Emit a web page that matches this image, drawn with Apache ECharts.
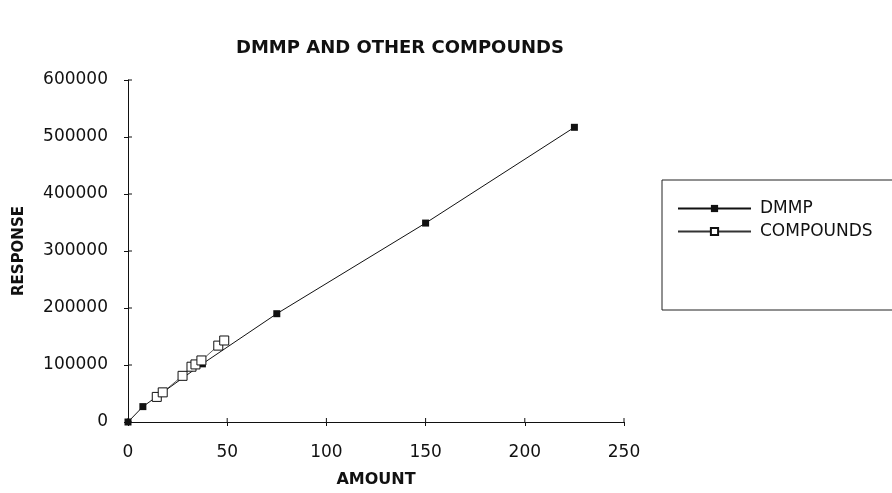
<!DOCTYPE html>
<html>
<head>
<meta charset="utf-8">
<script src="https://cdn.jsdelivr.net/npm/echarts@6/dist/echarts.min.js"></script>
<style>
  html, body { margin: 0; padding: 0; background: #fff; }
  #chart { width: 892px; height: 493px; }
</style>
</head>
<body>
<div id="chart"></div>
<script>
// DMMP calibration points (amount, response)
const dmmpAmount = [0, 7.5, 37.5, 75, 150, 225]
const dmmpResponse = [0, 27000, 102000, 190000, 349000, 517000]

// other compounds
const compAmount = [14.5, 17.5, 27.5, 32, 34, 37, 45.5, 48.5]
const compResponse = [44000, 52000, 81000, 97000, 101000, 108000, 134000, 143000]

const xTicks = [0, 50, 100, 150, 200, 250]
const yTicks = [0, 100000, 200000, 300000, 400000, 500000, 600000]

const FONT = '"DejaVu Sans", sans-serif'
const TICK = 4

const pairs = (xs, ys) => xs.map((x, i) => [x, ys[i]])

const chart = echarts.init(document.getElementById('chart'))

// inner half of the crossing ticks, placed through the axis scales
const innerTickSeries = (values, horizontal) => ({
  type: 'custom',
  silent: true,
  z: 5,
  data: values,
  renderItem: (params, api) => {
    const v = api.value(0)
    const p = horizontal ? api.coord([v, yTicks[0]]) : api.coord([xTicks[0], v])
    const shape = horizontal
      ? { x1: p[0], y1: p[1], x2: p[0], y2: p[1] - TICK }
      : { x1: p[0], y1: p[1], x2: p[0] + TICK, y2: p[1] }
    return { type: 'line', shape, style: { stroke: '#111', lineWidth: 1 } }
  }
})

chart.setOption({
  animation: false,
  backgroundColor: '#fff',
  title: {
    text: 'DMMP AND OTHER COMPOUNDS',
    left: 395,
    top: 34,
    textAlign: 'center',
    textStyle: { fontFamily: FONT, fontWeight: 'bold', fontSize: 18, color: '#111' }
  },
  grid: { left: 128, right: 268, top: 80, bottom: 70 },
  legend: {
    orient: 'vertical',
    left: 672,
    top: 195,
    itemGap: 6,
    itemWidth: 73,
    itemHeight: 9,
    textStyle: { fontFamily: FONT, fontSize: 17, color: '#111', padding: [0, 0, 0, 4] },
    data: ['DMMP', 'COMPOUNDS']
  },
  graphic: [{
    type: 'rect',
    shape: { x: 662, y: 180, width: 240, height: 130 },
    style: { fill: 'none', stroke: '#222', lineWidth: 1 },
    silent: true
  }],
  xAxis: {
    type: 'value',
    min: xTicks[0],
    max: xTicks[xTicks.length - 1],
    interval: 50,
    name: 'AMOUNT',
    nameLocation: 'middle',
    nameGap: 50,
    nameTextStyle: { fontFamily: FONT, fontWeight: 'bold', fontSize: 16, color: '#111' },
    axisLine: { onZero: false, lineStyle: { color: '#111', width: 1 } },
    axisTick: { show: true, length: TICK, lineStyle: { color: '#111' } },
    axisLabel: { fontFamily: FONT, fontSize: 17, color: '#111', margin: 22 },
    splitLine: { show: false }
  },
  yAxis: {
    type: 'value',
    min: yTicks[0],
    max: yTicks[yTicks.length - 1],
    interval: 100000,
    name: 'RESPONSE',
    nameLocation: 'middle',
    nameGap: 101,
    nameRotate: 90,
    nameTextStyle: { fontFamily: FONT, fontWeight: 'bold', fontSize: 15, color: '#111' },
    axisLine: { show: true, onZero: false, lineStyle: { color: '#111', width: 1 } },
    axisTick: { show: true, length: TICK, lineStyle: { color: '#111' } },
    axisLabel: { fontFamily: FONT, fontSize: 17, color: '#111', margin: 20, formatter: v => String(v) },
    splitLine: { show: false }
  },
  series: [
    innerTickSeries(xTicks, true),
    innerTickSeries(yTicks, false),
    {
      name: 'DMMP',
      type: 'line',
      data: pairs(dmmpAmount, dmmpResponse),
      symbol: 'rect',
      symbolSize: 7,
      lineStyle: { color: '#111', width: 1 },
      itemStyle: { color: '#111', borderColor: '#111', borderWidth: 0 }
    }, {
      name: 'COMPOUNDS',
      type: 'line',
      data: pairs(compAmount, compResponse),
      symbol: 'rect',
      symbolSize: 9,
      lineStyle: { color: '#333', width: 0.8 },
      itemStyle: { color: '#fff', borderColor: '#111', borderWidth: 1 }
    }
  ]
})
</script>
</body>
</html>
